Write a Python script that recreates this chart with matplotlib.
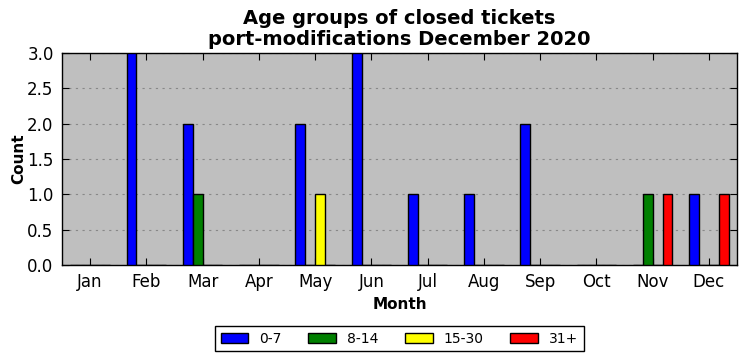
import matplotlib
matplotlib.use("Agg")
import matplotlib.pyplot as plt
import numpy as np

months = ['Jan', 'Feb', 'Mar', 'Apr', 'May', 'Jun', 'Jul', 'Aug', 'Sep', 'Oct', 'Nov', 'Dec']
groups = ['0-7', '8-14', '15-30', '31+']
colors = ['blue', 'green', 'yellow', 'red']
counts_0_7 = [0, 3, 2, 0, 2, 3, 1, 1, 2, 0, 0, 1]
counts_8_14 = [0, 0, 1, 0, 0, 0, 0, 0, 0, 0, 1, 0]
counts_15_30 = [0, 0, 0, 0, 1, 0, 0, 0, 0, 0, 0, 0]
counts_31 = [0, 0, 0, 0, 0, 0, 0, 0, 0, 0, 1, 1]
series = [counts_0_7, counts_8_14, counts_15_30, counts_31]

fig = plt.figure(figsize=(7.46, 3.61), dpi=100)
ax = fig.add_axes([0.083, 0.266, 0.905, 0.587])
ax.set_facecolor('#bfbfbf')

x = np.arange(len(months))
w = 0.175
for i, (vals, name, c) in enumerate(zip(series, groups, colors)):
    ax.bar(x + (i - 1.5) * w, vals, w, color=c, edgecolor='black', linewidth=1.0,
           label=name, zorder=3)

ax.set_xlim(-0.5, 11.5)
ax.set_ylim(0, 3.0)
ax.set_yticks(np.arange(0, 3.01, 0.5))
ax.set_xticks(x)
ax.set_xticklabels(months)
ax.tick_params(direction='in', top=True, right=True, labelsize=12, length=5, pad=6)
ax.grid(axis='y', color='#888888', linestyle=(0, (2, 4)), linewidth=0.8, zorder=1)
for s in ax.spines.values():
    s.set_linewidth(1.0)

ax.set_xlabel('Month', fontsize=11, fontweight='bold')
ax.set_ylabel('Count', fontsize=11, fontweight='bold', labelpad=1)
ax.set_title('Age groups of closed tickets\nport-modifications December 2020',
             fontsize=14, fontweight='bold', linespacing=1.1)

leg = ax.legend(loc='upper center', bbox_to_anchor=(0.5, -0.255), ncol=4, fontsize=10,
                fancybox=False, edgecolor='black', framealpha=1, columnspacing=1.9,
                handlelength=2.0, borderpad=0.4)
leg.get_frame().set_linewidth(1.0)

fig.savefig('out.png', dpi=100)
